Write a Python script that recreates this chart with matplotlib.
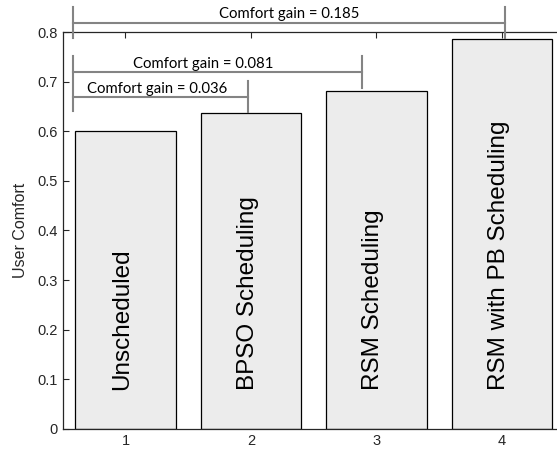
import matplotlib.pyplot as plt

# data
positions = [1, 2, 3, 4]
comfort = [0.600, 0.636, 0.681, 0.785]
bar_labels = ["Unscheduled", "BPSO Scheduling", "RSM Scheduling", "RSM with PB Scheduling"]
gains = [0.036, 0.081, 0.185]
yticks = [0, 0.1, 0.2, 0.3, 0.4, 0.5, 0.6, 0.7, 0.8]

plt.rcParams['font.family'] = ['Liberation Sans', 'DejaVu Sans']

fig = plt.figure(figsize=(5.57, 4.54), dpi=100)
ax = fig.add_axes([0.1126, 0.0551, 0.9013, 0.8744])

ax.bar(positions, comfort, width=0.8, color='#ececec', edgecolor='black', linewidth=0.9, zorder=2)

for x, lab in zip(positions, bar_labels):
    ax.text(x - 0.025, 0.078, lab, rotation=90, ha='center', va='bottom',
            fontsize=17.5, color='black', zorder=3)

ax.set_xlim(0.5, 4.5)
ax.set_ylim(0, 0.8)
ax.set_xticks(positions)
ax.set_yticks(yticks)
ax.set_yticklabels(['0'] + ['%.1f' % v for v in yticks[1:]])
ax.tick_params(direction='in', top=True, right=True, length=4, width=0.8,
               colors='#262626', labelsize=10.5, labelcolor='#262626')
for s in ax.spines.values():
    s.set_color('#262626')
    s.set_linewidth(0.9)
ax.set_ylabel("User Comfort", fontsize=11.5, color='#262626', labelpad=7)

# gain brackets (hand placed like in the original)
gcol = '#848484'
lw = 1.5
ann = dict(color=gcol, lw=lw, clip_on=False, zorder=4)
x0 = 0.585
# 0.185
ax.plot([x0, 4.025], [0.8186, 0.8186], **ann)
ax.plot([x0, x0], [0.787, 0.850], **ann)
ax.plot([4.025, 4.025], [0.787, 0.850], **ann)
# 0.081
ax.plot([x0, 2.886], [0.719, 0.719], **ann)
ax.plot([x0, x0], [0.640, 0.751], **ann)
ax.plot([2.886, 2.886], [0.688, 0.751], **ann)
# 0.036
ax.plot([x0, 1.978], [0.669, 0.669], **ann)
ax.plot([1.978, 1.978], [0.638, 0.702], **ann)

tfont = dict(family=['Lato', 'DejaVu Sans'], fontsize=10.7, color='black',
             ha='center', va='center', clip_on=False)
ax.text(2.305, 0.8355, "Comfort gain = %.3f" % gains[2], **tfont)
ax.text(1.619, 0.735, "Comfort gain = %.3f" % gains[1], **tfont)
ax.text(1.256, 0.686, "Comfort gain = %.3f" % gains[0], **tfont)

fig.savefig("out.png", dpi=100)
